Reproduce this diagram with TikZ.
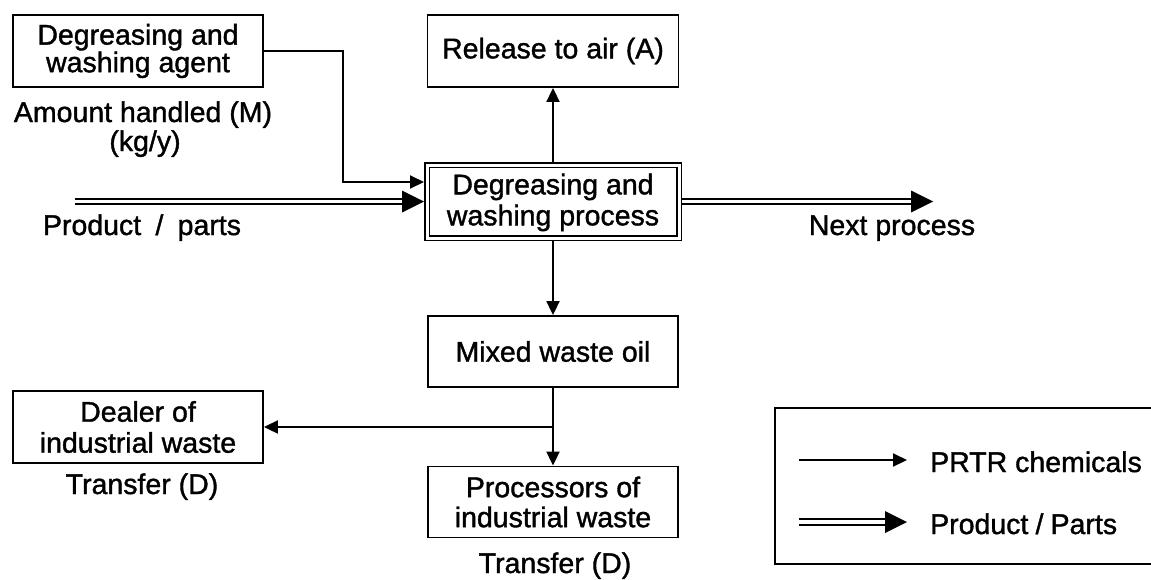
\documentclass[tikz,border=0pt]{standalone}
\usepackage{fontspec}
\newfontfamily\diaface[FakeBold=1.3]{Liberation Sans}
\usetikzlibrary{arrows.meta,decorations.markings}
\newcommand\diafont{\diaface\fontsize{28.5}{30}\selectfont}
\begin{document}
\begin{tikzpicture}[x=1pt,y=-1pt,
  box/.style={draw, line width=1.9pt, minimum width=250pt, minimum height=72pt,
    align=center, inner sep=0pt, font=\diafont},
  lbl/.style={inner sep=0pt, font=\diafont},
  flow/.style={line width=2pt, -{Triangle[length=14pt,width=13pt]}},
  prodflow/.style={line width=1.9pt, double, double distance=3.3pt, shorten >=14pt,
    decoration={markings, mark=at position 1 with
      {\fill[shorten >=0pt] (0pt,0pt) -- (-22pt,11pt) -- (-22pt,-11pt) -- cycle;}},
    postaction=decorate}]
\useasboundingbox (0,0) rectangle (1151,579);

% boxes
\node (agent) [box, font={\diafont\fontsize{28.5}{25}\selectfont}] at (138,51) {Degreasing and\\washing agent};
\node (release) [box, minimum width=251pt] at (553,51) {Release to air (A)};
\node (proc) [box, double, line width=1.6pt, double distance=3pt, minimum width=252pt,
  minimum height=73pt, outer sep=3pt, text depth=4pt, font={\diafont\fontsize{28.5}{31}\selectfont}]
  at (553,201.5) {Degreasing and\\washing process};
\node (mixed) [box, minimum height=71pt] at (553,351.5) {Mixed waste oil};
\node (processors) [box, minimum height=71pt, font={\diafont\fontsize{28.5}{30}\selectfont}]
  at (553,502) {Processors of\\industrial waste};
\node (dealer) [box, font={\diafont\fontsize{28.5}{31}\selectfont}] at (138,427) {Dealer of\\industrial waste};
\node (legend) [draw, line width=1.9pt, minimum width=385pt, minimum height=156pt, inner sep=0pt]
  at (967.5,486) {};

% free labels
\node (amount) [lbl, anchor=base] at (143,122) {Amount handled (M)};
\node (kgy) [lbl, anchor=base] at (145,151) {(kg/y)};
\node (prodlbl) [lbl, anchor=base] at (142,235) {Product\hspace{0.5em}/\hspace{0.5em}parts};
\node (nextlbl) [lbl, anchor=base] at (892,235) {Next process};
\node (transferA) [lbl, anchor=base] at (142,494) {Transfer (D)};
\node (transferB) [lbl, anchor=base] at (555,573) {Transfer (D)};
\node (lgchem) [lbl, anchor=base west] at (930,472) {PRTR chemicals};
\node (lgprod) [lbl, anchor=base west] at (930,534) {Product\hspace{0.25em}/\hspace{0.25em}Parts};

% connector points
\coordinate (bend) at (343,182);
\coordinate (pstart) at (75,201.5);
\coordinate (pend) at (933,201.5);
\coordinate (split) at (553,427);
\coordinate (lgA1) at (799,460);
\coordinate (lgA2) at (907,460);
\coordinate (lgB1) at (799,522);
\coordinate (lgB2) at (907,522);

% chemical flows
\draw[flow] (agent.east) -| (bend) -- (proc.west |- bend);
\draw[flow] (proc.north) -- (release.south);
\draw[flow] (proc.south) -- (mixed.north);
\draw[flow] (mixed.south) -- (processors.north);
\draw[flow] (split) -- (dealer.east);

% product flows
\draw[prodflow] (pstart) -- (proc.west);
\draw[prodflow] (proc.east) -- (pend);

% legend samples
\draw[flow] (lgA1) -- (lgA2);
\draw[prodflow] (lgB1) -- (lgB2);
\end{tikzpicture}
\end{document}
